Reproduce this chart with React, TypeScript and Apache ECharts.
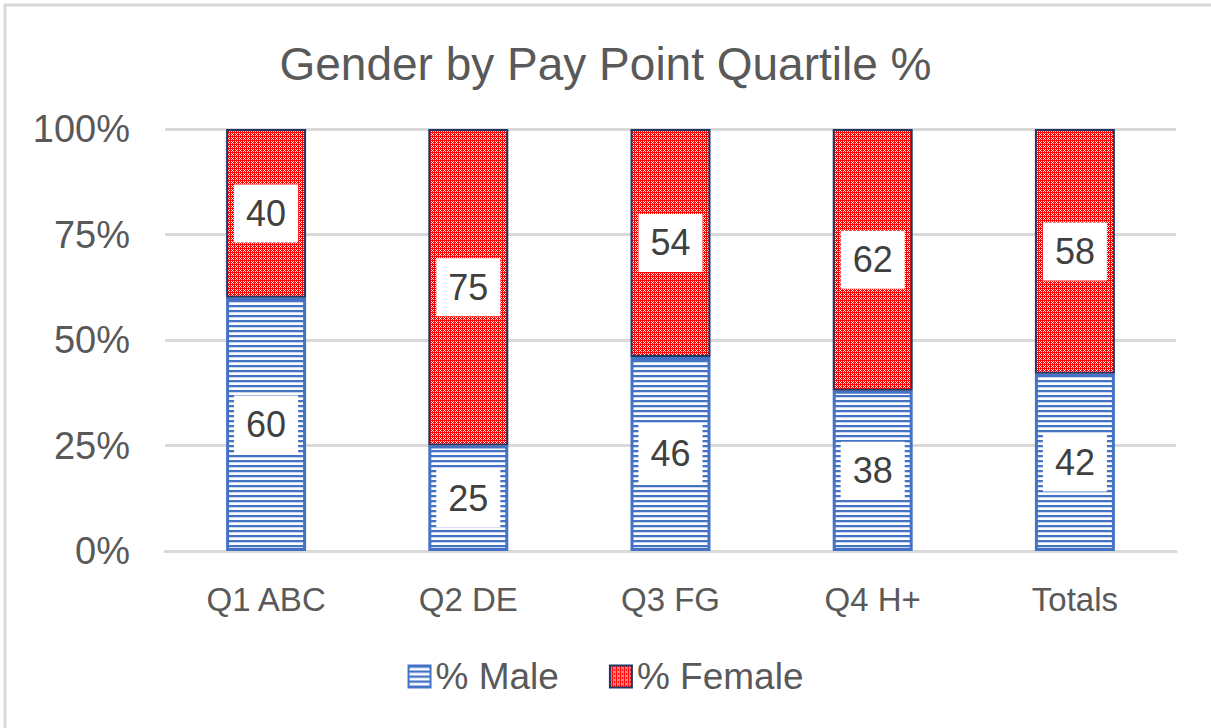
import React, { useEffect, useRef } from "react";
import * as echarts from "echarts";

const categories = ["Q1 ABC", "Q2 DE", "Q3 FG", "Q4 H+", "Totals"];
const maleValues = [60, 25, 46, 38, 42];
const femaleValues = [40, 75, 54, 62, 58];
const yTicks = [0, 25, 50, 75, 100];

function makeMalePattern(): HTMLCanvasElement {
  const c = document.createElement("canvas");
  c.width = 4;
  c.height = 5;
  const ctx = c.getContext("2d")!;
  ctx.fillStyle = "#ffffff";
  ctx.fillRect(0, 0, 4, 5);
  ctx.fillStyle = "#4472C4";
  ctx.fillRect(0, 0, 4, 2);
  ctx.fillStyle = "#c9d5ee";
  ctx.fillRect(0, 2, 4, 1);
  return c;
}

function makeFemalePattern(): HTMLCanvasElement {
  const c = document.createElement("canvas");
  c.width = 4;
  c.height = 4;
  const ctx = c.getContext("2d")!;
  ctx.fillStyle = "#FF0000";
  ctx.fillRect(0, 0, 4, 4);
  ctx.fillStyle = "#ffffff";
  ctx.fillRect(1, 1, 1, 1);
  ctx.fillRect(3, 1, 1, 1);
  ctx.fillRect(1, 3, 1, 1);
  ctx.fillRect(3, 3, 1, 1);
  ctx.fillRect(0, 2, 1, 1);
  return c;
}

export default function App() {
  const ref = useRef<HTMLDivElement>(null);
  useEffect(() => {
    if (!ref.current) return;
    const chart = echarts.init(ref.current, null, { renderer: "svg" });
    const malePat = { image: makeMalePattern(), repeat: "repeat" } as any;
    const femalePat = { image: makeFemalePattern(), repeat: "repeat" } as any;
    const font = "'Liberation Sans', Arial, sans-serif";
    const labelStyle = {
      show: true,
      position: "inside",
      formatter: "{c}",
      backgroundColor: "#ffffff",
      padding: [12, 12, 10, 12],
      fontSize: 36,
      color: "#404040",
      fontFamily: font,
    };
    chart.setOption({
      animation: false,
      backgroundColor: "#ffffff",
      textStyle: { fontFamily: font },
      title: {
        text: "Gender by Pay Point Quartile %",
        left: "center",
        top: 36,
        textStyle: { fontSize: 46, fontWeight: "normal", color: "#595959", fontFamily: font },
      },
      graphic: [
        {
          type: "rect",
          shape: { x: 5, y: 5, width: 1230, height: 750 },
          style: { fill: "none", stroke: "#d9d9d9", lineWidth: 3 },
          silent: true,
        },
      ],
      legend: {
        bottom: 28,
        left: "center",
        itemWidth: 22,
        itemHeight: 22,
        itemGap: 50,
        icon: "rect",
        textStyle: { fontSize: 37, color: "#595959", fontFamily: font },
        data: ["% Male", "% Female"],
      },
      grid: { left: 165, right: 35, top: 129, bottom: 177 },
      xAxis: {
        type: "category",
        data: categories,
        axisLine: { lineStyle: { color: "#d9d9d9", width: 3 } },
        axisTick: { show: false },
        axisLabel: { fontSize: 33, color: "#595959", margin: 32, fontFamily: font },
      },
      yAxis: {
        type: "value",
        min: yTicks[0],
        max: yTicks[yTicks.length - 1],
        interval: 25,
        axisLabel: { formatter: "{value}%", fontSize: 38, color: "#595959", margin: 35, fontFamily: font },
        splitLine: { lineStyle: { color: "#d9d9d9", width: 3 } },
        axisLine: { show: false },
        axisTick: { show: false },
      },
      series: [
        {
          name: "% Male",
          type: "bar",
          stack: "total",
          barWidth: 80,
          data: maleValues,
          itemStyle: { color: malePat, borderColor: "#4472C4", borderWidth: 3 },
          label: labelStyle,
        },
        {
          name: "% Female",
          type: "bar",
          stack: "total",
          barWidth: 80,
          data: femaleValues,
          itemStyle: { color: femalePat, borderColor: "#203864", borderWidth: 2 },
          label: labelStyle,
        },
      ],
    });
    return () => chart.dispose();
  }, []);
  return (
    <div
      ref={ref}
      style={{ position: "fixed", left: 0, top: 0, width: 1211, height: 728 }}
    />
  );
}
